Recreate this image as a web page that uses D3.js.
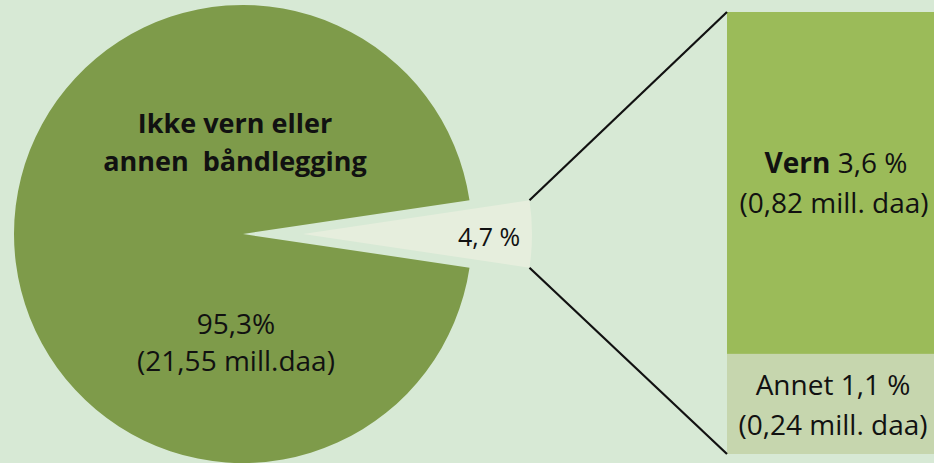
<!DOCTYPE html>
<html>
<head>
<meta charset="utf-8">
<script src="https://cdn.jsdelivr.net/npm/d3@7"></script>
<style>
  html, body { margin: 0; padding: 0; background: #d7e9d5; }
  svg { display: block; font-family: "Open Sans", Lato, sans-serif; }
  text { white-space: pre; }
</style>
</head>
<body>
<svg id="chart" width="934" height="463"></svg>
<script>
// main pie
var pieKeys = ["rest", "band"];
var pieShares = [95.3, 4.7];
var pieColors = ["#7e9b4a", "#e6eedd"];

// bar of the small slice
var barKeys = ["Vern", "Annet"];
var barShares = [3.6, 1.1];
var barAreas = [0.82, 0.24];   // mill. daa
var barColors = ["#9bbb59", "#c6d6ae"];

var svg = d3.select("#chart");

var cx = 243, cy = 234, r = 229;
var explode = 60;

var half = Math.PI * pieShares[1] / 100;   // half angle of small slice
var pie = d3.pie()
    .sort(null)
    .value(function(d) { return d; })
    .startAngle(Math.PI / 2 + half)
    .endAngle(Math.PI / 2 + half + 2 * Math.PI);
var arcs = pie(pieShares);
var arc = d3.arc().innerRadius(0).outerRadius(r);

var g = svg.append("g").attr("transform", "translate(" + cx + "," + cy + ")");
g.selectAll("path")
  .data(arcs)
  .enter().append("path")
    .attr("d", arc)
    .attr("fill", function(d, i) { return pieColors[i]; })
    .attr("transform", function(d, i) { return i == 1 ? "translate(" + explode + ",0)" : null; });

// bar
var barX = 727, barW = 214, barTop = 12, barBottom = 454;
var y = d3.scaleLinear()
    .domain([0, d3.sum(barAreas)])
    .range([barTop, barBottom]);
var stackStart = [0];
for (i = 0; i < barAreas.length - 1; i++) stackStart.push(stackStart[i] + barAreas[i]);

svg.selectAll("rect.bar")
  .data(barAreas)
  .enter().append("rect")
    .attr("class", "bar")
    .attr("x", barX)
    .attr("width", barW)
    .attr("y", function(d, i) { return y(stackStart[i]); })
    .attr("height", function(d) { return y(d) - y(0); })
    .attr("fill", function(d, i) { return barColors[i]; });

// connector lines from slice corners to bar corners
var sl = arcs[1];
function corner(a) {
  return [cx + explode + r * Math.sin(a), cy - r * Math.cos(a)];
}
var pTop = corner(sl.startAngle), pBot = corner(sl.endAngle);
svg.append("line")
  .attr("x1", pTop[0]).attr("y1", pTop[1])
  .attr("x2", barX).attr("y2", y(0))
  .attr("stroke", "#111").attr("stroke-width", 2.2);
svg.append("line")
  .attr("x1", pBot[0]).attr("y1", pBot[1])
  .attr("x2", barX).attr("y2", y(d3.sum(barAreas)))
  .attr("stroke", "#111").attr("stroke-width", 2.2);

// labels
var fmt = function(v) { return String(v).replace(".", ","); };

function lines(x, ys, texts, size, weight) {
  var t = svg.append("text")
    .attr("text-anchor", "middle")
    .attr("font-size", size)
    .attr("fill", "#111");
  texts.forEach(function(s, i) {
    t.append("tspan").attr("x", x).attr("y", ys[i]).attr("font-weight", weight || "normal").text(s);
  });
  return t;
}

lines(235, [133, 171], ["Ikke vern eller", "annen  båndlegging"], 27, "bold");
lines(236, [334, 371], [fmt(pieShares[0]) + "%", "(" + fmt(21.55) + " mill.daa)"], 28);

svg.append("text")
  .attr("x", 489).attr("y", 246)
  .attr("text-anchor", "middle")
  .attr("font-size", 25)
  .attr("fill", "#111")
  .text(fmt(pieShares[1]) + " %");

var vern = svg.append("text").attr("text-anchor", "middle").attr("font-size", 28).attr("fill", "#111");
vern.append("tspan").attr("x", 836).attr("y", 173).attr("font-weight", "bold").text(barKeys[0]);
vern.append("tspan").text(" " + fmt(barShares[0]) + " %");
lines(834, [213], ["(" + fmt(barAreas[0]) + " mill. daa)"], 28);

lines(833, [395, 435], [barKeys[1] + " " + fmt(barShares[1]) + " %", "(" + fmt(barAreas[1]) + " mill. daa)"], 28);
</script>
</body>
</html>
